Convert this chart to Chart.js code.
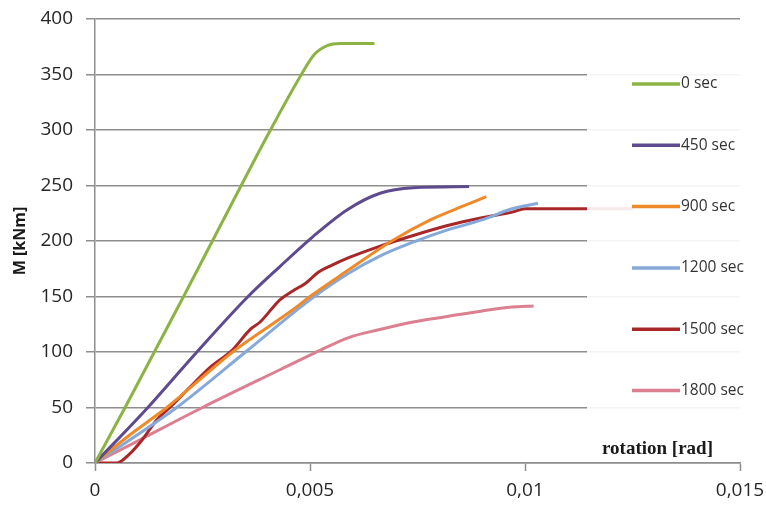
<!DOCTYPE html>
<html><head><meta charset="utf-8">
<script src="https://cdn.jsdelivr.net/npm/chart.js@4"></script>
<style>html,body{margin:0;padding:0;background:#fff}#wrap{width:766px;height:505px;position:relative}</style>
</head><body><div id="wrap"><canvas id="c"></canvas></div>
<script>
// ---- data ----
const seriesNames = ['0 sec', '450 sec', '900 sec', '1200 sec', '1500 sec', '1800 sec'];
const seriesColors = ['#8cb343', '#5e4a8e', '#ee8a2a', '#85a9d8', '#a8282a', '#dc7f90'];

const rot0    = [0, 0.0007, 0.00138, 0.00206, 0.00273, 0.0034, 0.00408, 0.0048, 0.0051, 0.0054, 0.0057, 0.0065];
const m0      = [0, 50, 100, 150, 200, 250, 300, 350, 368, 376, 378, 378];

const rot450  = [0, 0.00123, 0.00237, 0.00356, 0.0043, 0.00507, 0.00586, 0.00663, 0.0074, 0.0087];
const m450    = [0, 50, 100, 150, 177, 204, 228, 243, 248, 249];

const rot900  = [0, 0.0008, 0.00167, 0.0032, 0.0046, 0.005, 0.0059, 0.0069, 0.0078, 0.0086, 0.0091];
const m900    = [0, 25, 50, 100, 138, 150, 174, 200, 219, 232, 240];

const rot1200 = [0, 0.0019, 0.0035, 0.0047, 0.0051, 0.0059, 0.0066, 0.0074, 0.0082, 0.009, 0.0097, 0.0103];
const m1200   = [0, 50, 100, 138, 150, 171, 186, 199, 210, 219, 229, 234];

const rot1500 = [0, 0.0005, 0.0008, 0.0011, 0.00144, 0.00174, 0.0022, 0.00267, 0.0032, 0.0036, 0.00384, 0.0043, 0.0046, 0.0049, 0.0052, 0.0055, 0.0059, 0.0066, 0.0074, 0.0082, 0.009, 0.0097, 0.01, 0.0105, 0.0125];
const m1500   = [0, 0, 8, 21, 39, 50, 68, 86, 102, 120, 127, 147, 155, 162, 172, 178, 185, 195, 205, 214, 221, 226, 229, 229, 229];

const rot1800 = [0, 0.001, 0.0025, 0.0043, 0.0051, 0.0059, 0.0066, 0.0074, 0.0082, 0.009, 0.0097, 0.0102];
const m1800   = [0, 20, 50, 84, 99, 113, 120, 127, 132, 137, 140.5, 141.5];

const xTickLabels = ['0', '0,005', '0,01', '0,015'];
const yTickValues = [0, 50, 100, 150, 200, 250, 300, 350, 400];
const xTitle = 'rotation [rad]';
const yTitle = 'M [kNm]';

const xs = [rot0, rot450, rot900, rot1200, rot1500, rot1800];
const ys = [m0, m450, m900, m1200, m1500, m1800];

const datasets = seriesNames.map((name, i) => ({
  label: name,
  data: xs[i].map((x, j) => ({x: x, y: ys[i][j]})),
  borderColor: seriesColors[i],
  backgroundColor: seriesColors[i],
  borderWidth: 3,
  pointRadius: 0,
  showLine: true,
  fill: false,
  cubicInterpolationMode: 'monotone'
}));

const GRID = '#8e8e8e';

const insideLegend = {
  id: 'insideLegend',
  afterDatasetsDraw(chart) {
    const ctx = chart.ctx, ca = chart.chartArea;
    ctx.save();
    ctx.fillStyle = 'rgba(255,255,255,0.9)';
    ctx.fillRect(ca.right - 153, 45, 160, 390);
    ctx.font = '15.5px "Open Sans", sans-serif';
    ctx.textBaseline = 'middle';
    ctx.textAlign = 'left';
    chart.data.datasets.forEach((ds, i) => {
      const y = 84 + i * 61.3;
      ctx.strokeStyle = ds.borderColor;
      ctx.lineWidth = 3.5;
      ctx.beginPath();
      ctx.moveTo(ca.right - 108, y);
      ctx.lineTo(ca.right - 60, y);
      ctx.stroke();
      ctx.fillStyle = '#333';
      ctx.fillText(ds.label, ca.right - 59, y);
    });
    ctx.font = 'bold 19px "Liberation Serif", "Times New Roman", serif';
    ctx.textAlign = 'right';
    ctx.fillStyle = '#1a1a1a';
    ctx.fillText(xTitle, ca.right - 27, ca.bottom - 14);
    ctx.restore();
  }
};

new Chart(document.getElementById('c'), {
  type: 'scatter',
  data: {datasets},
  options: {
    responsive: true,
    maintainAspectRatio: false,
    animation: false,
    layout: {padding: {top: 19, right: 26, left: 0, bottom: 0}},
    plugins: {legend: {display: false}, tooltip: {enabled: false}},
    scales: {
      x: {
        type: 'linear', min: 0, max: 0.015,
        afterBuildTicks: s => { s.ticks = xTickLabels.map((_, i) => ({value: i * 0.005})); },
        afterFit: s => { s.height = 42; s.paddingRight = 0; s.paddingLeft = 0; },
        ticks: {
          callback: (v) => xTickLabels[Math.round(v / 0.005)],
          font: {family: '"Open Sans", sans-serif', size: 19},
          color: '#262626', padding: 8, maxRotation: 0
        },
        grid: {drawOnChartArea: false, tickLength: 8, tickColor: GRID, tickWidth: 1.5},
        border: {color: GRID, width: 1.5}
      },
      y: {
        min: 0, max: 400,
        afterBuildTicks: s => { s.ticks = yTickValues.map(v => ({value: v})); },
        afterFit: s => { s.width = 95; s.paddingTop = 0; s.paddingBottom = 0; },
        ticks: {
          font: {family: '"Open Sans", sans-serif', size: 19},
          color: '#262626', padding: 13
        },
        grid: {color: GRID, lineWidth: 1.5, tickLength: 9, tickColor: GRID},
        border: {color: GRID, width: 1.5},
        title: {display: true, text: yTitle, font: {family: '"Open Sans", sans-serif', size: 16, weight: 'bold'}, color: '#1a1a1a', padding: {top: 11, bottom: 0}}
      }
    }
  },
  plugins: [insideLegend]
});
</script></body></html>
